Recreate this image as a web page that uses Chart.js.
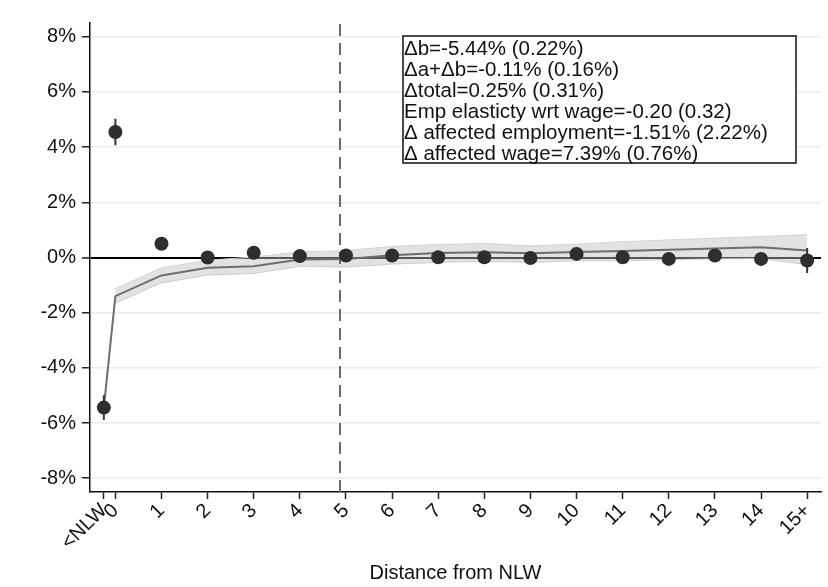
<!DOCTYPE html>
<html>
<head>
<meta charset="utf-8">
<script src="https://cdn.jsdelivr.net/npm/chart.js@4.4.1/dist/chart.umd.min.js"></script>
<style>
  html, body { margin: 0; padding: 0; background: #fff; }
  #wrap { width: 828px; height: 587px; }
</style>
</head>
<body>
<div id="wrap"><canvas id="chart" width="828" height="587"></canvas></div>
<script>
// categories and their place on the x axis
const labels = ['<NLW', '0', '1', '2', '3', '4', '5', '6', '7', '8', '9', '10', '11', '12', '13', '14', '15+'];
const xPos = [-0.25, 0, 1, 2, 3, 4, 5, 6, 7, 8, 9, 10, 11, 12, 13, 14, 15];

// point estimates (%) and their error bar half-widths
const estimates = [-5.44, 4.55, 0.50, 0.00, 0.17, 0.05, 0.07, 0.07, 0.01, 0.01, -0.02, 0.13, 0.01, -0.05, 0.07, -0.05, -0.11];
const stdErr = [0.45, 0.48, 0.18, 0.18, 0.18, 0.18, 0.18, 0.18, 0.18, 0.18, 0.18, 0.18, 0.18, 0.18, 0.18, 0.18, 0.45];

// cumulative effect and its confidence band
const cumulative = [-5.44, -1.40, -0.65, -0.37, -0.32, -0.07, -0.05, 0.08, 0.16, 0.19, 0.15, 0.20, 0.24, 0.28, 0.33, 0.37, 0.25];
const bandLow = [null, -1.66, -0.92, -0.64, -0.58, -0.32, -0.35, -0.24, -0.18, -0.14, -0.18, -0.12, -0.12, -0.08, -0.05, -0.04, -0.26];
const bandHigh = [null, -1.13, -0.38, -0.10, 0.02, 0.20, 0.25, 0.40, 0.47, 0.51, 0.42, 0.48, 0.57, 0.64, 0.70, 0.76, 0.83];

const yTicks = [-8, -6, -4, -2, 0, 2, 4, 6, 8];
const cutoff = 4.87;

const statsText = [
  'Δb=-5.44% (0.22%)',
  'Δa+Δb=-0.11% (0.16%)',
  'Δtotal=0.25% (0.31%)',
  'Emp elasticty wrt wage=-0.20 (0.32)',
  'Δ affected employment=-1.51% (2.22%)',
  'Δ affected wage=7.39% (0.76%)'
];

const FONT = '"Liberation Sans", Arial, sans-serif';

function pts(arr) {
  let out = [];
  arr.forEach((v, i) => {
    if (v !== null) out.push({ x: xPos[i], y: v });
  });
  return out;
}

// vertical error bars, broken with gaps
let errData = [];
estimates.forEach((v, i) => {
  errData.push({ x: xPos[i], y: v - stdErr[i] });
  errData.push({ x: xPos[i], y: v + stdErr[i] });
  errData.push({ x: xPos[i], y: null });
});

const statsBox = {
  id: 'statsBox',
  afterDraw(chart) {
    const ctx = chart.ctx;
    const x = 403, y = 36, w = 393, h = 127;
    ctx.save();
    ctx.fillStyle = '#fff';
    ctx.fillRect(x, y, w, h);
    ctx.strokeStyle = '#111';
    ctx.lineWidth = 1.5;
    ctx.strokeRect(x, y, w, h);
    ctx.font = '20.5px ' + FONT;
    ctx.fillStyle = '#111';
    ctx.textBaseline = 'alphabetic';
    statsText.forEach((t, i) => ctx.fillText(t, x + 1, 54.5 + i * 21.1));
    ctx.restore();
  }
};

new Chart(document.getElementById('chart'), {
  type: 'line',
  data: {
    datasets: [
      {
        data: pts(bandLow),
        borderColor: '#d2d2d2',
        borderWidth: 1,
        pointRadius: 0,
        fill: false,
        order: 6
      },
      {
        data: pts(bandHigh),
        borderColor: '#d2d2d2',
        borderWidth: 1,
        pointRadius: 0,
        backgroundColor: 'rgba(190,190,190,0.45)',
        fill: '-1',
        order: 5
      },
      {
        data: [{ x: cutoff, y: -8.5 }, { x: cutoff, y: 8.5 }],
        borderColor: '#6a6a6a',
        borderWidth: 2,
        borderDash: [12, 7],
        pointRadius: 0,
        order: 4
      },
      {
        data: pts(cumulative),
        borderColor: '#6e6e6e',
        borderWidth: 2,
        pointRadius: 0,
        tension: 0,
        order: 3
      },
      {
        data: errData,
        borderColor: '#333',
        borderWidth: 2,
        pointRadius: 0,
        spanGaps: false,
        order: 2
      },
      {
        data: pts(estimates),
        showLine: false,
        pointRadius: 7,
        pointBackgroundColor: '#2e2e2e',
        pointBorderColor: '#2e2e2e',
        pointBorderWidth: 0,
        order: 1
      }
    ]
  },
  options: {
    responsive: false,
    animation: false,
    layout: { padding: { left: 0, right: 6, top: 23, bottom: 0 } },
    plugins: {
      legend: { display: false },
      tooltip: { enabled: false }
    },
    scales: {
      x: {
        type: 'linear',
        min: -0.55,
        max: 15.3,
        afterBuildTicks: axis => { axis.ticks = xPos.map(v => ({ value: v })); },
        afterFit: axis => { axis.height = 95; },
        ticks: {
          autoSkip: false,
          minRotation: 45,
          maxRotation: 45,
          padding: 0,
          color: '#111',
          font: { family: FONT, size: 20 },
          callback: v => labels[xPos.indexOf(v)]
        },
        grid: {
          drawOnChartArea: false,
          tickLength: 7,
          tickColor: '#222',
          tickWidth: 1.5
        },
        border: { color: '#111', width: 1.5 },
        title: {
          display: true,
          text: 'Distance from NLW',
          color: '#111',
          font: { family: FONT, size: 20 },
          padding: { top: 0, bottom: 2 }
        }
      },
      y: {
        min: -8.5,
        max: 8.5,
        afterBuildTicks: axis => { axis.ticks = yTicks.map(v => ({ value: v })); },
        afterFit: axis => { axis.width = 90; },
        ticks: {
          padding: 6,
          color: '#111',
          font: { family: FONT, size: 20 },
          callback: v => v + '%'
        },
        grid: {
          color: c => (c.tick && c.tick.value === 0) ? '#000' : '#ebebeb',
          lineWidth: c => (c.tick && c.tick.value === 0) ? 2 : 1.5,
          tickLength: 8,
          tickColor: '#222',
          tickWidth: 1.5
        },
        border: { color: '#111', width: 1.5 }
      }
    }
  },
  plugins: [statsBox]
});
</script>
</body>
</html>
